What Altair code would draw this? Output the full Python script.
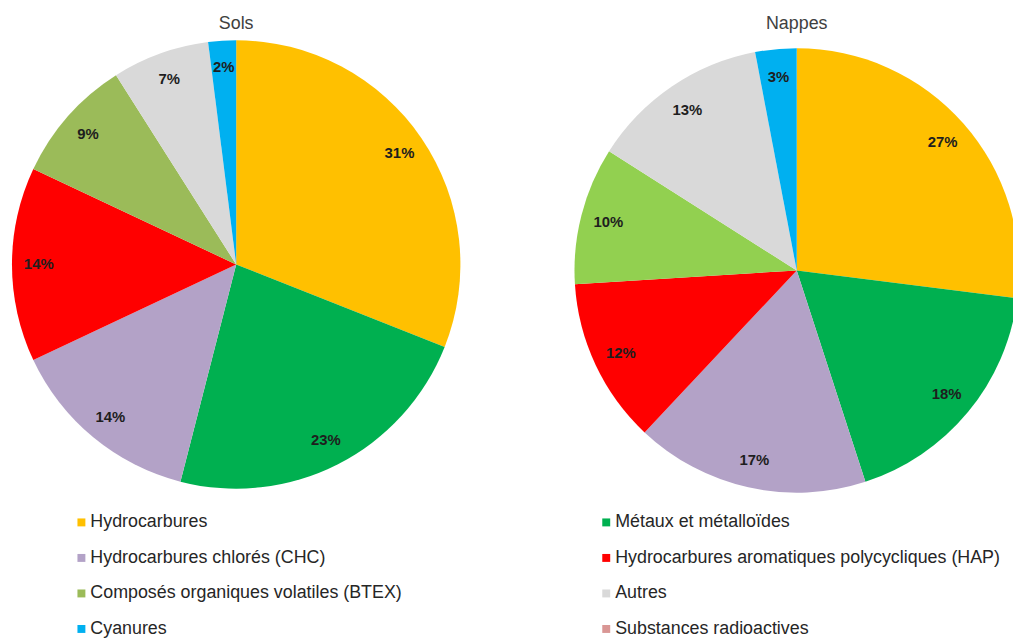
import altair as alt
import pandas as pd

categories = [
    "Hydrocarbures",
    "Métaux et métalloïdes",
    "Hydrocarbures chlorés (CHC)",
    "Hydrocarbures aromatiques polycycliques (HAP)",
    "Composés organiques volatiles (BTEX)",
    "Autres",
    "Cyanures",
]
sols_values = [31, 23, 14, 14, 9, 7, 2]
nappes_values = [27, 18, 17, 12, 10, 13, 3]
# legend order (filled column by column): left column then right column
legend_categories = [
    "Hydrocarbures",
    "Hydrocarbures chlorés (CHC)",
    "Composés organiques volatiles (BTEX)",
    "Cyanures",
    "Métaux et métalloïdes",
    "Hydrocarbures aromatiques polycycliques (HAP)",
    "Autres",
    "Substances radioactives",
]
sols_colors = ["#FFC000", "#B3A2C7", "#9BBB59", "#00B0F0", "#00B050", "#FF0000", "#D9D9D9", "#D99694"]
nappes_colors = ["#FFC000", "#B3A2C7", "#92D050", "#00B0F0", "#00B050", "#FF0000", "#D9D9D9", "#D99694"]
titles = ["Sols", "Nappes"]

FONT = "Liberation Sans"


def frame(values):
    return pd.DataFrame({
        "categorie": categories,
        "valeur": values,
        "ordre": list(range(len(values))),
        "label": [f"{v}%" for v in values],
    })


def pie(values, cx, cy, r, lr, colors, legend, title):
    base = alt.Chart(frame(values))
    theta = alt.Theta("valeur:Q", stack=True)
    arcs = base.mark_arc(outerRadius=r).encode(
        theta=theta,
        order=alt.Order("ordre:Q"),
        color=alt.Color("categorie:N",
                        scale=alt.Scale(domain=legend_categories, range=colors),
                        legend=legend),
        x=alt.value(cx), y=alt.value(cy),
    )
    labels = base.mark_text(radius=lr, font=FONT, fontSize=15, fontWeight="bold",
                            color="#1e1e1e").encode(
        theta=theta,
        order=alt.Order("ordre:Q"),
        text="label:N",
        x=alt.value(cx), y=alt.value(cy),
    )
    ttl = alt.Chart(pd.DataFrame({"t": [title]})).mark_text(
        font=FONT, fontSize=18, color="#404040").encode(
        text="t:N", x=alt.value(cx), y=alt.value(14))
    return [arcs, labels, ttl]


legend = alt.Legend(
    title=None, orient="none", legendX=65, legendY=507, columns=2,
    columnPadding=196, rowPadding=17.8, symbolType="square", symbolSize=64,
    labelFont=FONT, labelFontSize=18, labelColor="#262626", labelOffset=0,
    labelLimit=0, padding=0, symbolStrokeWidth=0,
)

layers = (pie(sols_values, 230, 256, 226, 199, sols_colors, legend, titles[0])
          + pie(nappes_values, 795, 262, 224, 196, nappes_colors, None, titles[1]))

chart = alt.layer(*layers).resolve_scale(color="independent", theta="independent").properties(
    width=1013, height=630, padding=0,
    autosize=alt.AutoSizeParams(type="none"),
).configure_view(stroke=None)

chart.save("out.html", embed_options={"renderer": "svg", "actions": False})
